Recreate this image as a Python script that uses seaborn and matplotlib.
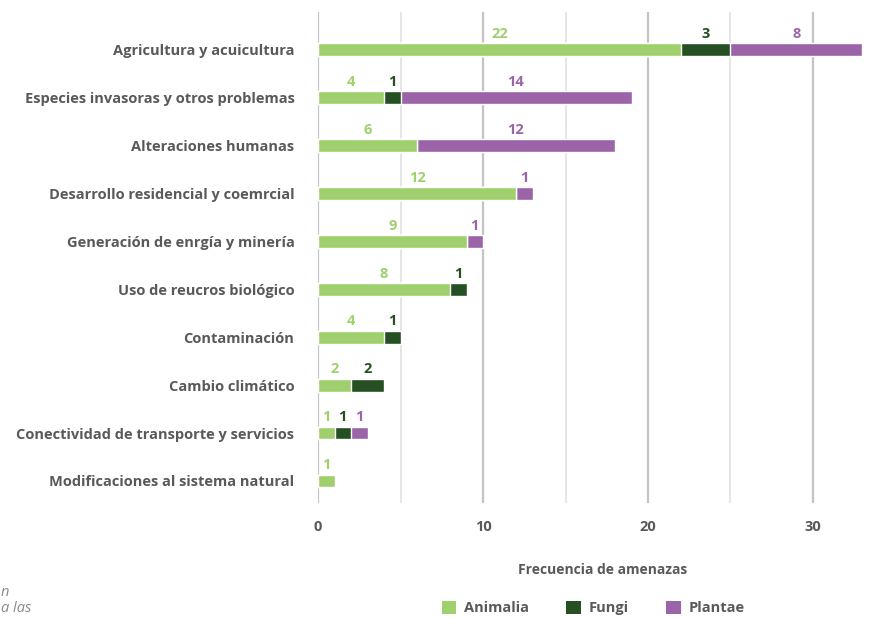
import numpy as np
import pandas as pd
import seaborn as sns
import matplotlib.pyplot as plt
from matplotlib.patches import Patch

categorias = ["Agricultura y acuicultura",
              "Especies invasoras y otros problemas",
              "Alteraciones humanas",
              "Desarrollo residencial y coemrcial",
              "Generación de enrgía y minería",
              "Uso de reucros biológico",
              "Contaminación",
              "Cambio climático",
              "Conectividad de transporte y servicios",
              "Modificaciones al sistema natural"]
animalia = [22, 4, 6, 12, 9, 8, 4, 2, 1, 1]
fungi = [3, 1, 0, 0, 0, 1, 1, 2, 1, 0]
plantae = [8, 14, 12, 1, 1, 0, 0, 0, 1, 0]

series = ["Animalia", "Fungi", "Plantae"]
colores = ["#a0cf6e", "#264f23", "#9b64a9"]
gris = "#595959"

sns.set_style("white")
plt.rcParams['font.family'] = ['Open Sans', 'DejaVu Sans']

df = pd.DataFrame({"cat": categorias, "Animalia": animalia,
                   "Fungi": fungi, "Plantae": plantae})
df["c1"] = df["Animalia"]
df["c2"] = df["Animalia"] + df["Fungi"]
df["c3"] = df["c2"] + df["Plantae"]

fig = plt.figure(figsize=(8.92, 6.18), dpi=100)
ax = fig.add_axes([318 / 892, 1 - 503 / 618, (862.5 - 318) / 892, (503 - 12) / 618])

# stacked bars drawn back to front as cumulative totals
for col, c in zip(["c3", "c2", "c1"], colores[::-1]):
    sns.barplot(data=df, x=col, y="cat", color=c, width=0.265,
                saturation=1, ax=ax, zorder=3)

ax.set_xlim(0, 33)
ax.set_ylim(9.46, -0.79)
ax.set_xticks([0, 10, 20, 30])
ax.set_xticks([5, 15, 25], minor=True)
ax.grid(axis="x", which="major", color="#c3c3c6", lw=1.6, zorder=0)
ax.grid(axis="x", which="minor", color="#e2e2e2", lw=1.2, zorder=0)
ax.set_axisbelow(True)
for s in ax.spines.values():
    s.set_visible(False)
ax.tick_params(axis="both", which="both", length=0)
ax.tick_params(axis="x", pad=12, labelsize=10.5, labelcolor=gris)
ax.tick_params(axis="y", pad=17, labelsize=10.5, labelcolor=gris)
for t in ax.get_xticklabels() + ax.get_yticklabels():
    t.set_fontweight("bold")
ax.set_xlabel("")
ax.set_ylabel("")

# value labels above each segment
for i in range(len(categorias)):
    start = 0
    for vals, c in zip([animalia, fungi, plantae], colores):
        v = vals[i]
        if v > 0:
            ax.text(start + v / 2, i - 0.33, str(v), ha="center", va="center",
                    color=c, fontsize=10.5, fontweight="bold")
        start += v

fig.text(603 / 892, 1 - 570 / 618, "Frecuencia de amenazas", ha="center",
         va="center", fontsize=10, fontweight="bold", color=gris)

handles = [Patch(facecolor=c, edgecolor="none") for c in colores]
leg = fig.legend(handles, series, loc="center", bbox_to_anchor=(593 / 892, 1 - 608 / 618),
                 ncol=3, frameon=False, handlelength=1.0, handleheight=1.0,
                 columnspacing=2.6, handletextpad=0.5,
                 prop={"weight": "bold", "size": 10.5})
for t in leg.get_texts():
    t.set_color(gris)

# fragments of neighbouring text at the lower left
fig.text(1 / 892, 1 - 592 / 618, "n", fontsize=10.5, style="italic",
         color="#8a8a8a", va="center")
fig.text(1 / 892, 1 - 609 / 618, "a las", fontsize=10.5, style="italic",
         color="#8a8a8a", va="center")

fig.savefig("out.png", dpi=100)
